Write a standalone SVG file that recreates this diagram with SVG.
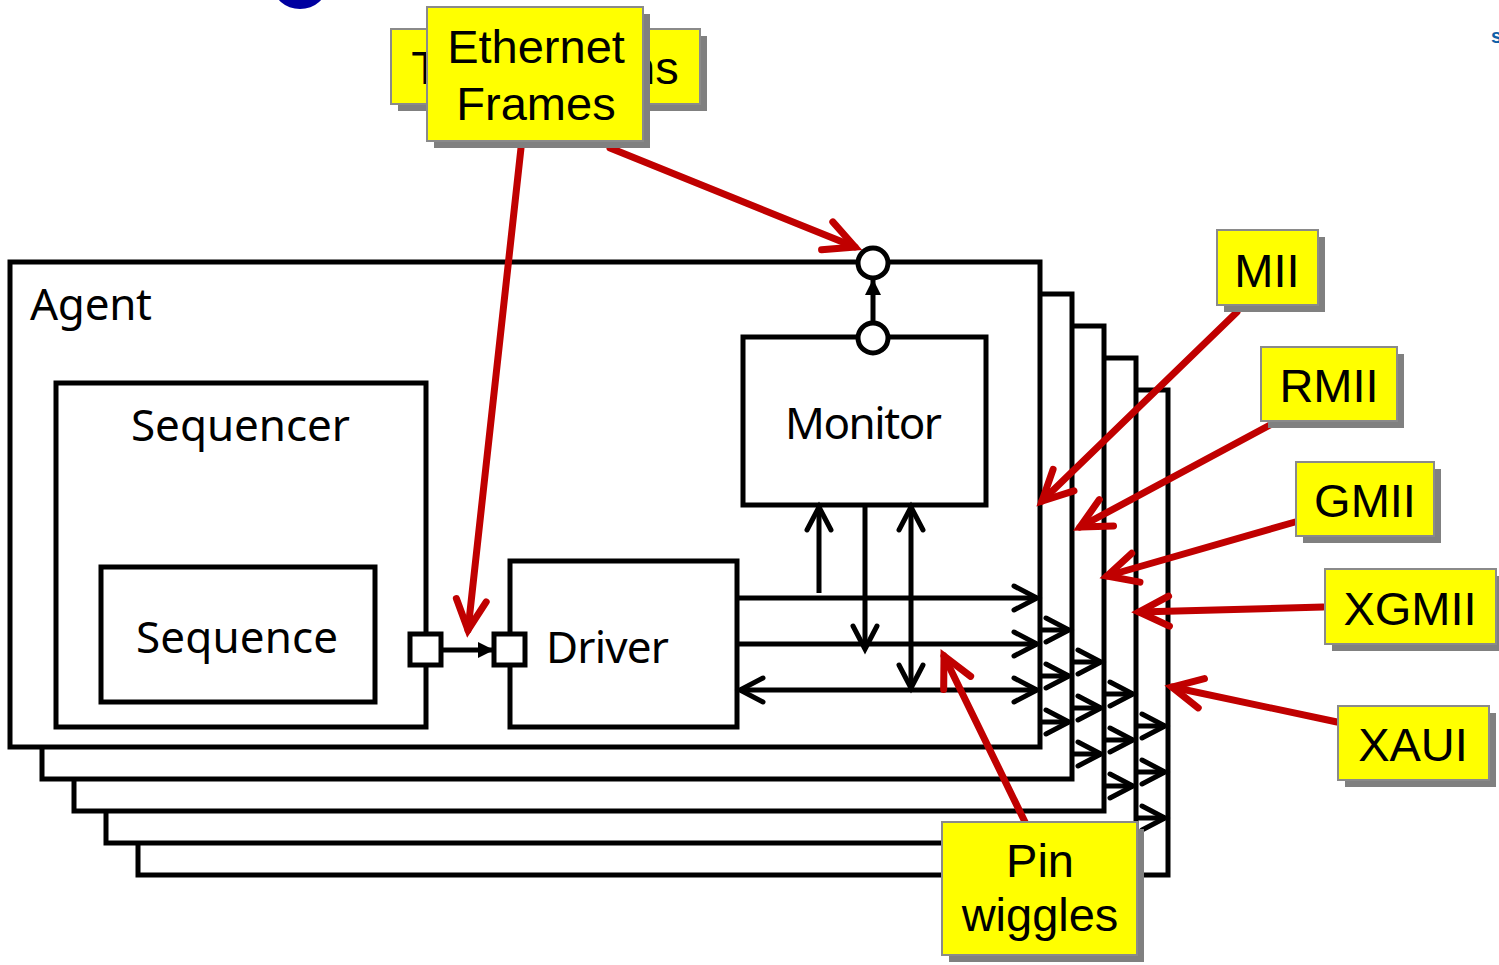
<svg xmlns="http://www.w3.org/2000/svg" width="1499" height="965" viewBox="0 0 1499 965">
<style>
.fr{fill:#fff;stroke:#000;stroke-width:5}
.bx{fill:#fff;stroke:#000;stroke-width:5}
.ar{fill:none;stroke:#000;stroke-width:5;marker-end:url(#bk)}
.red{fill:none;stroke:#c00000;stroke-width:7;stroke-linecap:round;marker-end:url(#rd)}
.t{font-family:"Noto Sans","DejaVu Sans",sans-serif;font-size:44px;fill:#000}
.lb{fill:#ffff00;stroke:#8a8a8a;stroke-width:2}
.sh{fill:#808080}
.lt{font-family:"Liberation Sans",Arial,sans-serif;font-size:47px;fill:#000;text-anchor:middle}
</style>
<defs>
<marker id="bk" markerUnits="userSpaceOnUse" viewBox="-30 -15 32 30" markerWidth="32" markerHeight="30" refX="0" refY="0" orient="auto-start-reverse" overflow="visible">
<path d="M-23,-12 L0,0 L-23,12" fill="none" stroke="#000" stroke-width="5" stroke-linecap="round" stroke-linejoin="miter"/>
</marker>
<marker id="tri" markerUnits="userSpaceOnUse" viewBox="-20 -10 22 20" markerWidth="22" markerHeight="20" refX="0" refY="0" orient="auto" overflow="visible">
<path d="M-16,-8 L0,0 L-16,8 Z" fill="#000"/>
</marker>
<marker id="rd" markerUnits="userSpaceOnUse" viewBox="-40 -20 44 40" markerWidth="44" markerHeight="40" refX="0" refY="0" orient="auto" overflow="visible">
<path d="M-30,-15 L0,0 L-30,15" fill="none" stroke="#c00000" stroke-width="7" stroke-linecap="round" stroke-linejoin="miter"/>
</marker>
</defs>
<rect width="1499" height="965" fill="#fff"/>
<ellipse cx="300" cy="-15" rx="27" ry="24" fill="#0000a0"/>
<text x="1491" y="43" font-family="Liberation Sans,Arial,sans-serif" font-size="20" font-weight="bold" fill="#1060a8">s</text>

<g id="frames">
<rect class="fr" x="138" y="390" width="1030" height="485"/>
<rect class="fr" x="106" y="358" width="1030" height="485"/>
<rect class="fr" x="74" y="326" width="1030" height="485"/>
<rect class="fr" x="42" y="294" width="1030" height="485"/>
</g>
<g id="agent">
<rect class="fr" x="10" y="262" width="1030" height="485"/>
<text class="t" x="30" y="320" textLength="122">Agent</text>
</g>
<g id="sequencer">
<rect class="bx" x="56" y="383" width="370" height="344"/>
<text class="t" x="131" y="441" textLength="219">Sequencer</text>
</g>
<g id="sequence">
<rect class="bx" x="101" y="567" width="274" height="135"/>
<text class="t" x="136" y="653" textLength="202">Sequence</text>
</g>
<g id="driver">
<rect class="bx" x="510" y="561" width="227" height="166"/>
<text class="t" x="546" y="663" textLength="123">Driver</text>
</g>
<g id="monitor">
<rect class="bx" x="743" y="337" width="243" height="168"/>
<text class="t" x="785" y="439" textLength="157">Monitor</text>
</g>
<g id="ports">
<rect class="bx" x="410" y="634" width="31" height="31"/>
<rect class="bx" x="494" y="634" width="31" height="31"/>
<circle class="bx" cx="873" cy="338" r="15"/>
<circle class="bx" cx="873" cy="263" r="15"/>
</g>

<g id="connectors">
<line x1="441" y1="650" x2="494" y2="650" stroke="#000" stroke-width="5" marker-end="url(#tri)"/>
<line x1="873" y1="323" x2="873" y2="279" stroke="#000" stroke-width="5" marker-end="url(#tri)"/>
<line class="ar" x1="819" y1="593" x2="819" y2="507"/>
<line class="ar" x1="865" y1="505" x2="865" y2="649"/>
<line class="ar" x1="911" y1="507" x2="911" y2="688" style="marker-start:url(#bk)"/>
<line class="ar" x1="737" y1="598" x2="1037" y2="598"/>
<line class="ar" x1="737" y1="644" x2="1037" y2="644"/>
<line class="ar" x1="740" y1="690" x2="1037" y2="690" style="marker-start:url(#bk)"/>
<line class="ar" x1="1040" y1="630" x2="1069" y2="630"/>
<line class="ar" x1="1040" y1="676" x2="1069" y2="676"/>
<line class="ar" x1="1040" y1="722" x2="1069" y2="722"/>
<line class="ar" x1="1072" y1="662" x2="1101" y2="662"/>
<line class="ar" x1="1072" y1="708" x2="1101" y2="708"/>
<line class="ar" x1="1072" y1="754" x2="1101" y2="754"/>
<line class="ar" x1="1104" y1="694" x2="1133" y2="694"/>
<line class="ar" x1="1104" y1="740" x2="1133" y2="740"/>
<line class="ar" x1="1104" y1="786" x2="1133" y2="786"/>
<line class="ar" x1="1136" y1="726" x2="1165" y2="726"/>
<line class="ar" x1="1136" y1="772" x2="1165" y2="772"/>
<line class="ar" x1="1136" y1="818" x2="1165" y2="818"/>

<line class="red" x1="521" y1="148" x2="468" y2="630"/>
<line class="red" x1="610" y1="148" x2="855" y2="247"/>
<line class="red" x1="1237" y1="312" x2="1042" y2="501"/>
<line class="red" x1="1270" y1="425" x2="1080" y2="527"/>
<line class="red" x1="1295" y1="522" x2="1107" y2="576"/>
<line class="red" x1="1323" y1="607" x2="1139" y2="612"/>
<line class="red" x1="1337" y1="722" x2="1172" y2="687"/>
<line class="red" x1="1025" y1="822" x2="944" y2="656"/>
</g>

<g id="label-transactions">
<rect class="sh" x="398" y="36" width="309" height="75"/>
<rect class="lb" x="391" y="29" width="309" height="75"/>
<text class="lt" x="545" y="84">Transactions</text>
</g>
<g id="label-ethernet">
<rect class="sh" x="434" y="14" width="216" height="134"/>
<rect class="lb" x="427" y="7" width="216" height="134"/>
<text class="lt" x="536" y="63">Ethernet</text>
<text class="lt" x="536" y="120">Frames</text>
</g>
<g id="label-mii">
<rect class="sh" x="1224" y="237" width="101" height="75"/>
<rect class="lb" x="1217" y="230" width="101" height="75"/>
<text class="lt" x="1267" y="287">MII</text>
</g>
<g id="label-rmii">
<rect class="sh" x="1268" y="354" width="136" height="74"/>
<rect class="lb" x="1261" y="347" width="136" height="74"/>
<text class="lt" x="1329" y="402">RMII</text>
</g>
<g id="label-gmii">
<rect class="sh" x="1303" y="469" width="138" height="74"/>
<rect class="lb" x="1296" y="462" width="138" height="74"/>
<text class="lt" x="1365" y="517">GMII</text>
</g>
<g id="label-xgmii">
<rect class="sh" x="1332" y="576" width="171" height="75"/>
<rect class="lb" x="1325" y="569" width="171" height="75"/>
<text class="lt" x="1410" y="625">XGMII</text>
</g>
<g id="label-xaui">
<rect class="sh" x="1345" y="713" width="151" height="74"/>
<rect class="lb" x="1338" y="706" width="151" height="74"/>
<text class="lt" x="1413" y="761">XAUI</text>
</g>
<g id="label-pin">
<rect class="sh" x="949" y="829" width="195" height="133"/>
<rect class="lb" x="942" y="822" width="195" height="133"/>
<text class="lt" x="1040" y="877">Pin</text>
<text class="lt" x="1040" y="931">wiggles</text>
</g>
</svg>
